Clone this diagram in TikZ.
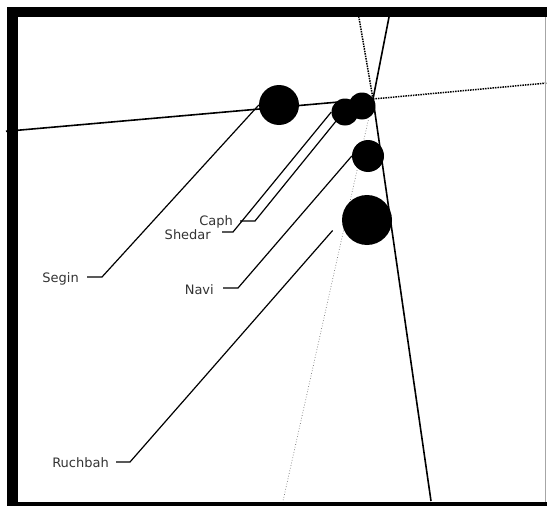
\documentclass[tikz,border=0pt]{standalone}
\usepackage{fontspec}
\setmainfont{DejaVu Sans}
\begin{document}
\begin{tikzpicture}[x=1pt,y=-1pt,
  star/.style={circle,fill=black,inner sep=0pt},
  axis/.style={line width=1.6pt},
  axisdot/.style={line width=1.5pt,densely dotted},
  axisfine/.style={line width=0.7pt,dotted,black!55},
  leader/.style={line width=1.2pt},
  tag/.style={anchor=base east,inner sep=0pt,font=\fontsize{13}{15}\selectfont,text=black!80},
  frame/.style={fill=black}]
\useasboundingbox (0,0) rectangle (547,506);

% crossing lines through the common point
\coordinate (v) at (373,99);
\coordinate (w) at (6,131.3);
\coordinate (e) at (547,83);
\coordinate (nsolid) at (390,12);
\coordinate (ndot) at (358,12);
\coordinate (ssolid) at (431,501);
\coordinate (sdot) at (283,501);
\draw[axis] (w) -- (v);
\draw[axisdot] (v) -- (e);
\draw[axis] (v) -- (nsolid);
\draw[axisfine] (v) -- (sdot);
\draw[axisdot] (v) -- (ndot);
\draw[axis] (v) -- (ssolid);

% stars
\node[star,minimum size=40pt] (segin) at (279,105) {};
\node[star,minimum size=27pt] (shedar) at (345,112) {};
\node[star,minimum size=27pt] (caph) at (362,106) {};
\node[star,minimum size=32pt] (navi) at (368,156) {};
\node[star,minimum size=50pt] (ruchbah) at (367,220) {};

% labels
\node[tag] (seginlabel) at (79,282.5) {Segin};
\node[tag] (caphlabel) at (233,225) {Caph};
\node[tag] (shedarlabel) at (211,239) {Shedar};
\node[tag] (navilabel) at (214,294) {Navi};
\node[tag] (ruchbahlabel) at (109,467) {Ruchbah};

% leader lines
\coordinate (segin-a) at (87,277);   \coordinate (segin-b) at (102,277);
\coordinate (caph-a) at (240,221);   \coordinate (caph-b) at (255,221);
\coordinate (shedar-a) at (222,232); \coordinate (shedar-b) at (233,232);
\coordinate (navi-a) at (223,288);   \coordinate (navi-b) at (238,288);
\coordinate (ruchbah-a) at (116,462); \coordinate (ruchbah-b) at (130,462);
\draw[leader] (segin-a) -- (segin-b) -- (segin.west);
\draw[leader] (caph-a) -- (caph-b) -- (caph.west);
\draw[leader] (shedar-a) -- (shedar-b) -- (shedar.west);
\draw[leader] (navi-a) -- (navi-b) -- (navi.west);
\draw[leader,shorten >=14pt] (ruchbah-a) -- (ruchbah-b) -- (ruchbah.west);

% frame
\fill[frame] (6.5,7) rectangle (547,17);
\fill[frame] (6.5,7) rectangle (17.5,506);
\fill[frame] (6.5,501.5) rectangle (547,506);
\draw[black!35,line width=0.8pt] (545.8,17) -- (545.8,501.5);
\end{tikzpicture}
\end{document}
